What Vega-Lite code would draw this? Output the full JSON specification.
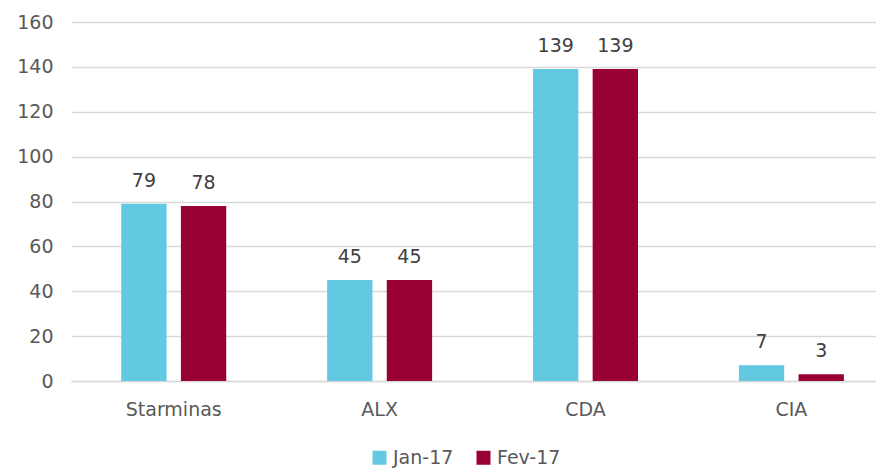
{
  "$schema": "https://vega.github.io/schema/vega-lite/v6.json",
  "autosize": "none",
  "padding": {"left": 71, "top": 22, "right": 0, "bottom": 88},
  "width": 805,
  "height": 359,
  "background": "white",
  "config": {
    "view": {"stroke": null},
    "font": "DejaVu Sans"
  },
  "data": {
    "values": [
      {"categoria": "Starminas", "mes": "Jan-17", "valor": 79},
      {"categoria": "Starminas", "mes": "Fev-17", "valor": 78},
      {"categoria": "ALX", "mes": "Jan-17", "valor": 45},
      {"categoria": "ALX", "mes": "Fev-17", "valor": 45},
      {"categoria": "CDA", "mes": "Jan-17", "valor": 139},
      {"categoria": "CDA", "mes": "Fev-17", "valor": 139},
      {"categoria": "CIA", "mes": "Jan-17", "valor": 7},
      {"categoria": "CIA", "mes": "Fev-17", "valor": 3}
    ]
  },
  "encoding": {
    "x": {
      "field": "categoria",
      "type": "nominal",
      "sort": ["Starminas", "ALX", "CDA", "CIA"],
      "scale": {"paddingInner": 0.49, "paddingOuter": 0.2, "align": 0.61},
      "axis": {
        "title": null,
        "labelAngle": 0,
        "labelFontSize": 19,
        "labelColor": "#595959",
        "labelPadding": 19,
        "ticks": false,
        "domainColor": "#D9D9D9",
        "domainWidth": 1.5
      }
    },
    "xOffset": {
      "field": "mes",
      "type": "nominal",
      "sort": ["Jan-17", "Fev-17"],
      "scale": {"paddingInner": 0.24, "paddingOuter": 0}
    },
    "y": {
      "field": "valor",
      "type": "quantitative",
      "scale": {"domain": [0, 160]},
      "axis": {
        "title": null,
        "values": [0, 20, 40, 60, 80, 100, 120, 140, 160],
        "labelFontSize": 19,
        "labelColor": "#595959",
        "labelPadding": 18,
        "ticks": false,
        "domain": false,
        "gridColor": "#D9D9D9",
        "gridWidth": 1.5
      }
    }
  },
  "layer": [
    {
      "mark": {"type": "bar"},
      "encoding": {
        "color": {
          "field": "mes",
          "type": "nominal",
          "sort": ["Jan-17", "Fev-17"],
          "scale": {"domain": ["Jan-17", "Fev-17"], "range": ["#63C9E2", "#990033"]},
          "legend": {
            "title": null,
            "orient": "none",
            "legendX": 299,
            "legendY": 426,
            "direction": "horizontal",
            "symbolType": "square",
            "symbolSize": 196,
            "symbolStrokeWidth": 0,
            "symbolOffset": 0,
            "labelFontSize": 19,
            "labelColor": "#595959",
            "labelOffset": 4,
            "columnPadding": 20,
            "padding": 0
          }
        }
      }
    },
    {
      "mark": {"type": "text", "dy": -23, "fontSize": 19, "color": "#404040"},
      "encoding": {
        "text": {"field": "valor", "type": "quantitative"}
      }
    }
  ]
}
